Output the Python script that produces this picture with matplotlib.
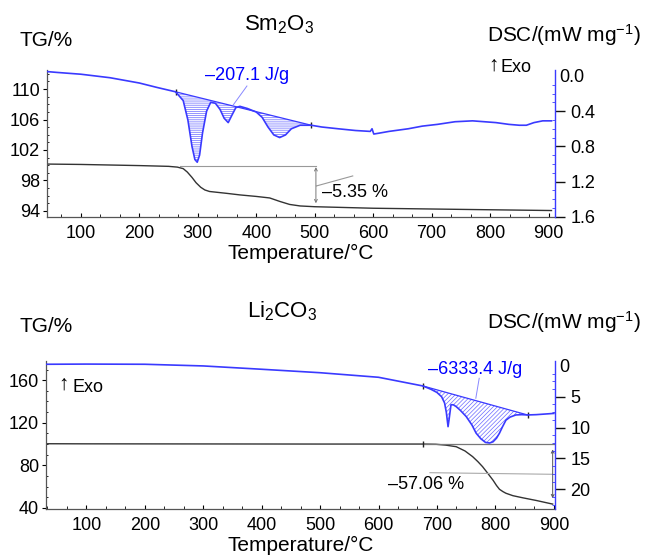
import matplotlib
matplotlib.use("Agg")
import matplotlib.pyplot as plt
import matplotlib.transforms as mtransforms
import numpy as np

plt.rcParams['font.family'] = ['Liberation Sans', 'DejaVu Sans']
plt.rcParams['mathtext.fontset'] = 'custom'
plt.rcParams['mathtext.rm'] = 'Liberation Sans'
plt.rcParams['mathtext.it'] = 'Liberation Sans'
plt.rcParams['hatch.linewidth'] = 0.5

# ---- Sm2O3 (top panel) ----
sm_T = [42, 60, 100, 150, 200, 230, 262, 275, 283, 290, 295, 299, 303, 308, 315, 322,
        330, 338, 345, 352, 358, 365, 372, 385, 400, 410, 420, 430, 440, 450, 460, 475,
        494, 512, 540, 570, 595, 598, 601, 610, 627, 660, 684, 710, 740, 770, 790, 810,
        832, 850, 862, 875, 890, 905]
sm_dsc = [0.05, 0.04, 0.02, -0.02, -0.08, -0.13, -0.18, -0.28, -0.5, -0.8, -0.95, -0.98,
          -0.9, -0.65, -0.4, -0.3, -0.31, -0.38, -0.48, -0.53, -0.45, -0.36, -0.345, -0.37,
          -0.41, -0.47, -0.58, -0.67, -0.70, -0.67, -0.6, -0.56, -0.56, -0.58, -0.60, -0.62,
          -0.63, -0.60, -0.66, -0.65, -0.63, -0.60, -0.57, -0.55, -0.52, -0.51, -0.52, -0.53,
          -0.55, -0.56, -0.56, -0.53, -0.51, -0.51]
sm_tg_T = [42, 100, 200, 250, 265, 275, 282, 290, 297, 305, 312, 320, 332, 350, 372, 400,
           423, 440, 457, 475, 500, 550, 600, 700, 800, 905]
sm_tg = [100.15, 100.1, 99.95, 99.85, 99.75, 99.55, 99.1, 98.4, 97.7, 97.1, 96.75, 96.55,
         96.45, 96.3, 96.1, 95.9, 95.7, 95.25, 94.85, 94.65, 94.55, 94.45, 94.35, 94.25,
         94.15, 94.05]
sm_base = [262, 494]          # integration limits
sm_peak_label = "–207.1 J/g"
sm_loss_label = "–5.35 %"

# ---- Li2CO3 (bottom panel) ----
li_T = [31, 100, 200, 300, 400, 500, 600, 676, 690, 700, 708, 713, 716, 719, 721, 724,
        728, 733, 740, 750, 760, 767, 775, 783, 790, 796, 802, 807, 812, 818, 825, 835,
        845, 855, 870, 885, 900]
li_dsc = [0.27, 0.3, 0.27, 0.0, -0.54, -1.1, -1.84, -3.25, -3.8, -4.3, -5.0, -6.0, -7.5,
          -9.85, -8.5, -6.3, -6.3, -6.6, -7.2, -8.2, -9.6, -10.9, -11.8, -12.4, -12.5,
          -12.3, -11.7, -10.9, -9.9, -8.8, -8.3, -7.95, -7.9, -7.95, -7.9, -7.8, -7.7]
li_tg_T = [31, 100, 300, 500, 676, 698, 715, 733, 748, 761, 770, 778, 787, 796, 802, 807,
           813, 818, 830, 847, 870, 898]
li_tg = [100.3, 100.2, 100.1, 100.0, 100.0, 99.8, 99.0, 97.5, 93.5, 88.2, 83.5, 78.8,
         72.5, 66.0, 61.0, 57.5, 55.3, 53.8, 51.5, 49.5, 47.0, 43.6]
li_base = [676, 855]
li_peak_label = "–6333.4 J/g"
li_loss_label = "–57.06 %"

BLUE = '#3a3aff'
GREY = '#333333'

fig = plt.figure(figsize=(6.46, 5.6), dpi=100)


def px(x, y):
    return x / 646, 1 - y / 560


def panel(rect, xlim, ylim, ylim2, yticks, yticks2, ylabels2):
    ax = fig.add_axes(rect)
    ax.set_xlim(*xlim)
    ax.set_ylim(*ylim)
    ax.set_xticks(range(100, 1000, 100))
    ax.set_yticks(yticks)
    ax.xaxis.set_minor_locator(matplotlib.ticker.AutoMinorLocator(3))
    ax.yaxis.set_minor_locator(matplotlib.ticker.AutoMinorLocator(4))
    ax.tick_params(axis='x', which='major', direction='in', length=3, labelsize=13, pad=6)
    ax.tick_params(axis='x', which='minor', direction='in', length=2)
    ax.tick_params(axis='y', which='major', direction='out', length=3, labelsize=13, pad=2)
    ax.tick_params(axis='y', which='minor', direction='in', length=1.5)
    for s in ['top', 'right']:
        ax.spines[s].set_visible(False)
    for s in ['left', 'bottom']:
        ax.spines[s].set_color('#555555')
        ax.spines[s].set_linewidth(0.9)
    ax.set_xlabel("Temperature/°C", fontsize=15, labelpad=1)
    ax2 = ax.twinx()
    ax2.set_ylim(*ylim2)
    ax2.set_yticks(yticks2)
    ax2.set_yticklabels(ylabels2)
    ax2.yaxis.set_minor_locator(matplotlib.ticker.AutoMinorLocator(4))
    # the dashes in front of the negative values are drawn as outward ticks
    ax2.tick_params(axis='y', which='major', direction='out', length=7.5, width=1.0,
                    color='#111111', labelsize=13, pad=3.5)
    ax2.tick_params(axis='y', which='minor', direction='in', length=2, color=BLUE)
    for s in ['top', 'left', 'bottom']:
        ax2.spines[s].set_visible(False)
    ax2.spines['right'].set_color(BLUE)
    ax2.spines['right'].set_linewidth(1.0)
    zero = ax2.yaxis.get_major_ticks()[-1]
    zero.tick2line.set_visible(False)
    zero.label2.set_transform(zero.label2.get_transform() +
                              mtransforms.ScaledTranslation(-0.11, 0, fig.dpi_scale_trans))
    return ax, ax2


def dsc_peak(ax2, T, dsc, base, hatch):
    T = np.array(T, float)
    dsc = np.array(dsc, float)
    y0 = np.interp(base[0], T, dsc)
    y1 = np.interp(base[1], T, dsc)
    tt = np.linspace(base[0], base[1], 400)
    curve = np.interp(tt, T, dsc)
    line = y0 + (y1 - y0) * (tt - base[0]) / (base[1] - base[0])
    ax2.fill_between(tt, curve, line, facecolor='white', edgecolor='#6a6aff',
                     hatch=hatch, linewidth=0, zorder=1)
    ax2.plot(base, [y0, y1], color=BLUE, lw=0.9, zorder=2)
    ax2.plot(base, [y0, y1], ls='none', marker='|', ms=4, color='#222222', zorder=3)
    ax2.plot(T, dsc, color=BLUE, lw=1.2, zorder=3)


# ---------- top panel ----------
ax, ax2 = panel([47 / 646, 1 - 217 / 560, 508 / 646, 147 / 560],
                (42, 911), (93.2, 112.5), (-1.603, 0.068),
                [94, 98, 102, 106, 110], [-1.6, -1.2, -0.8, -0.4, 0.0],
                ["1.6", "1.2", "0.8", "0.4", "0.0"])
ax.plot(sm_tg_T, sm_tg, color=GREY, lw=1.0)
ax.plot([270, 502], [99.9, 99.9], color='#999999', lw=0.8)
ax.annotate('', xy=(502, 95.0), xytext=(502, 99.75),
            arrowprops=dict(arrowstyle='<->', color='#777777', lw=0.7,
                            mutation_scale=5, shrinkA=0, shrinkB=0))
ax.plot([503, 565], [97.28, 98.59], color='#999999', lw=0.8)
ax.text(512, 96.4, sm_loss_label, fontsize=13, va='center', ha='left')
dsc_peak(ax2, sm_T, sm_dsc, sm_base, '--------')
ax2.plot([384, 360.5], [-0.114, -0.33], color='#8888ff', lw=0.7)
ax2.text(312, 0.0, sm_peak_label, color='#0000ff', fontsize=13, va='center', ha='left')

fig.text(*px(279, 25), "Sm$_2$O$_3$", fontsize=16, ha='center', va='center')
fig.text(*px(20, 40), "TG/%", fontsize=15, ha='left', va='center')
fig.text(*px(641, 35), "DSC/(mW mg$^{-1}$)", fontsize=15, ha='right', va='center')
fig.text(*px(488, 65), "↑", fontsize=15, ha='left', va='center')
fig.text(*px(500, 67), "Exo", fontsize=13, ha='left', va='center')

# ---------- bottom panel ----------
bx, bx2 = panel([46 / 646, 1 - 509 / 560, 509 / 646, 148 / 560],
                (31, 902), (39, 178), (-23.2, 0.8),
                [40, 80, 120, 160], [-20, -15, -10, -5, 0],
                ["20", "15", "10", "5", "0"])
bx.plot(li_tg_T, li_tg, color=GREY, lw=1.0)
bx.plot([676, 900], [100, 100], color='#777777', lw=0.9)
bx.plot([676], [100], ls='none', marker='|', ms=4, color='#222222')
bx.annotate('', xy=(898, 49.1), xytext=(898, 95),
            arrowprops=dict(arrowstyle='<->', color='#555555', lw=0.7,
                            mutation_scale=5, shrinkA=0, shrinkB=0))
bx.plot([688, 898], [73.1, 71.6], color='#aaaaaa', lw=0.8)
bx.text(616, 61.6, li_loss_label, fontsize=13, va='center', ha='left')
dsc_peak(bx2, li_T, li_dsc, li_base, '////////')
bx2.plot([772.3, 766.5], [-2.0, -5.24], color='#8888ff', lw=0.7)
bx2.text(684, -0.65, li_peak_label, color='#0000ff', fontsize=13, va='center', ha='left')

fig.text(*px(282, 311), "Li$_2$CO$_3$", fontsize=16, ha='center', va='center')
fig.text(*px(20, 327), "TG/%", fontsize=15, ha='left', va='center')
fig.text(*px(641, 322), "DSC/(mW mg$^{-1}$)", fontsize=15, ha='right', va='center')
fig.text(*px(58, 384), "↑", fontsize=15, ha='left', va='center')
fig.text(*px(72, 387), "Exo", fontsize=13, ha='left', va='center')

fig.savefig("out.png", dpi=100)
